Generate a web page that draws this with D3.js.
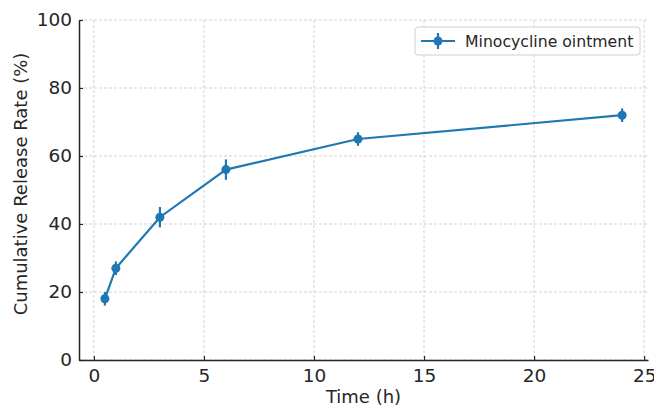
<!DOCTYPE html>
<html>
<head>
<meta charset="utf-8">
<script src="https://cdn.jsdelivr.net/npm/d3@7"></script>
<style>
  body { margin: 0; background: #fff; }
  svg { font-family: "DejaVu Sans", sans-serif; }
</style>
</head>
<body>
<div id="chart"></div>
<script>
// release profile
const times = [0.5, 1, 3, 6, 12, 24];
const release = [18, 27, 42, 56, 65, 72];
const errors = [2, 2, 3, 3, 2, 2];
const xTicks = [0, 5, 10, 15, 20, 25];
const yTicks = [0, 20, 40, 60, 80, 100];
const seriesName = "Minocycline ointment";

const data = times.map((t, i) => ({ t: t, v: release[i], e: errors[i] }));

const W = 654, H = 405;
const margin = { top: 20, right: 6, bottom: 45, left: 79 };
const width = W - margin.left - margin.right;
const height = H - margin.top - margin.bottom;
const blue = "#1f77b4";
const ink = "#262626";

const svg = d3.select("#chart")
  .append("svg")
  .attr("width", W)
  .attr("height", H);

const g = svg.append("g")
  .attr("transform", `translate(${margin.left}, ${margin.top})`);

const x = d3.scaleLinear()
  .domain([-0.675, 25.175])
  .range([0, width]);

const y = d3.scaleLinear()
  .domain([0, 100])
  .range([height, 0]);

// grid
g.append("g")
  .selectAll("line")
  .data(xTicks)
  .join("line")
  .attr("x1", d => x(d)).attr("x2", d => x(d))
  .attr("y1", 0).attr("y2", height)
  .attr("stroke", "#c8c8c8")
  .attr("stroke-width", 0.8)
  .attr("stroke-dasharray", "3,2");

g.append("g")
  .selectAll("line")
  .data(yTicks)
  .join("line")
  .attr("x1", 0).attr("x2", width)
  .attr("y1", d => y(d)).attr("y2", d => y(d))
  .attr("stroke", "#c8c8c8")
  .attr("stroke-width", 0.8)
  .attr("stroke-dasharray", "3,2");

// axes, ticks pointing inward
const xAxis = g.append("g")
  .attr("transform", `translate(0, ${height})`)
  .call(d3.axisBottom(x).tickValues(xTicks).tickSizeInner(-4).tickSizeOuter(0).tickPadding(9));

const yAxis = g.append("g")
  .call(d3.axisLeft(y).tickValues(yTicks).tickSizeInner(-4).tickSizeOuter(0).tickPadding(7));

[xAxis, yAxis].forEach(ax => {
  ax.select(".domain").attr("stroke", ink).attr("stroke-width", 1.5);
  ax.selectAll(".tick line").attr("stroke", ink).attr("stroke-width", 1.2);
  ax.selectAll(".tick text")
    .attr("fill", ink)
    .style("font-size", "18.5px")
    .style("font-family", "DejaVu Sans, sans-serif");
});

// line
g.append("path")
  .datum(data)
  .attr("fill", "none")
  .attr("stroke", blue)
  .attr("stroke-width", 2.2)
  .attr("d", d3.line()
    .x(d => x(d.t))
    .y(d => y(d.v))
  );

// error bars
g.append("g")
  .selectAll("line")
  .data(data)
  .join("line")
  .attr("x1", d => x(d.t)).attr("x2", d => x(d.t))
  .attr("y1", d => y(d.v - d.e)).attr("y2", d => y(d.v + d.e))
  .attr("stroke", blue)
  .attr("stroke-width", 2.2);

// markers
g.append("g")
  .selectAll("circle")
  .data(data)
  .join("circle")
  .attr("cx", d => x(d.t))
  .attr("cy", d => y(d.v))
  .attr("r", 4.5)
  .attr("fill", blue);

// axis labels
svg.append("text")
  .attr("x", margin.left + width / 2)
  .attr("y", 403)
  .attr("text-anchor", "middle")
  .attr("fill", ink)
  .style("font-size", "18px")
  .text("Time (h)");

svg.append("text")
  .attr("transform", `translate(27, ${margin.top + height / 2 - 6}) rotate(-90)`)
  .attr("text-anchor", "middle")
  .attr("fill", ink)
  .style("font-size", "18px")
  .text("Cumulative Release Rate (%)");

// legend
const legend = svg.append("g")
  .attr("transform", "translate(415, 27)");

legend.append("rect")
  .attr("width", 225)
  .attr("height", 28)
  .attr("rx", 3)
  .attr("fill", "#fff")
  .attr("fill-opacity", 0.8)
  .attr("stroke", "#d0d0d0");

legend.append("line")
  .attr("x1", 6).attr("x2", 40)
  .attr("y1", 14).attr("y2", 14)
  .attr("stroke", blue)
  .attr("stroke-width", 2.2);

legend.append("line")
  .attr("x1", 23).attr("x2", 23)
  .attr("y1", 6).attr("y2", 22)
  .attr("stroke", blue)
  .attr("stroke-width", 2.2);

legend.append("circle")
  .attr("cx", 23).attr("cy", 14)
  .attr("r", 4.5)
  .attr("fill", blue);

legend.append("text")
  .attr("x", 50)
  .attr("y", 19.5)
  .attr("fill", ink)
  .style("font-size", "15.7px")
  .text(seriesName);
</script>
</body>
</html>
